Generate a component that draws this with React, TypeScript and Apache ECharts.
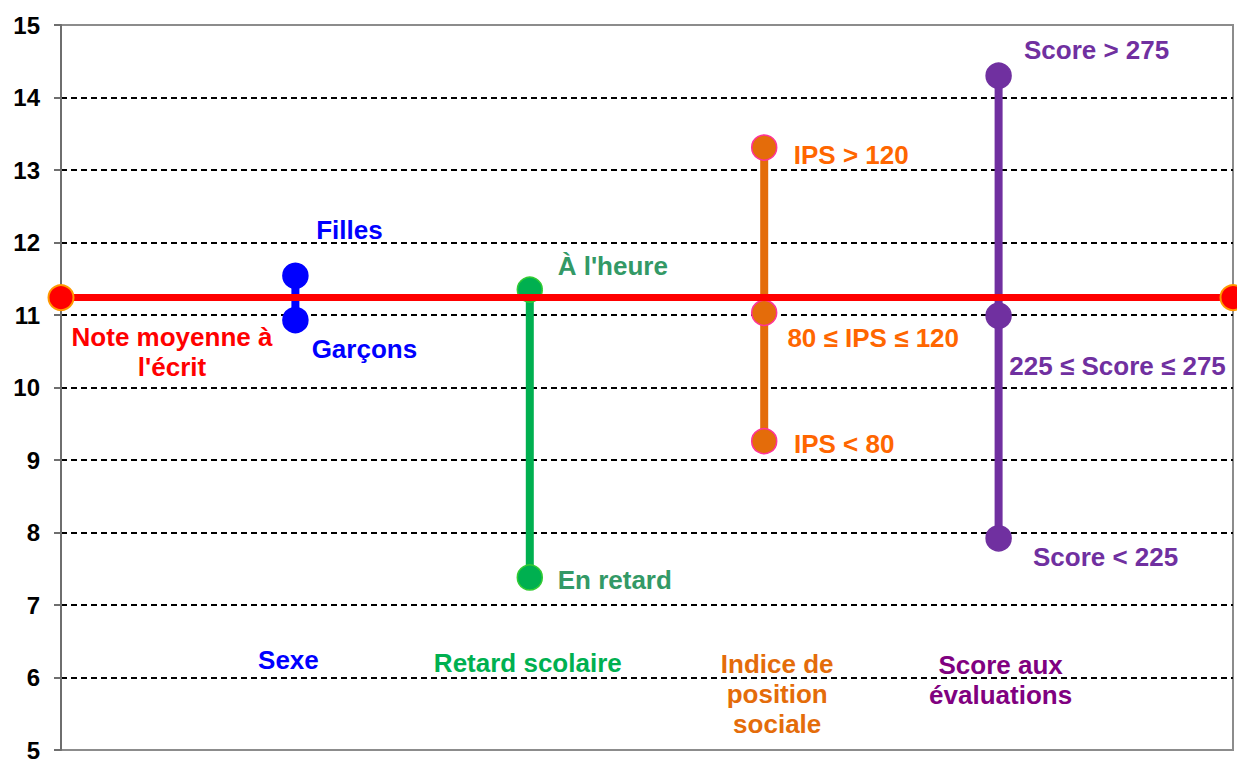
import React, { useEffect, useRef } from "react";
import * as echarts from "echarts";

// ---- data ----
const groupNames = ["Sexe", "Retard scolaire", "Indice de\nposition\nsociale", "Score aux\névaluations"];
const groupX = [0.2, 0.4, 0.6, 0.8];

const sexeLabels = ["Filles", "Garçons"];
const sexeValues = [11.54, 10.93];

const retardLabels = ["À l'heure", "En retard"];
const retardValues = [11.35, 7.38];

const ipsLabels = ["IPS > 120", "80 ≤ IPS ≤ 120", "IPS < 80"];
const ipsValues = [13.31, 11.03, 9.26];

const scoreLabels = ["Score > 275", "225 ≤ Score ≤ 275", "Score < 225"];
const scoreValues = [14.3, 10.99, 7.92];

const meanLabel = "Note moyenne à\nl'écrit";
const meanValue = 11.24;
const meanX = [0, 1];

const yMin = 5;
const yMax = 15;
const yInterval = 1;

// ---- styles ----
const FONT = "'Liberation Sans', Arial, sans-serif";
const groupStyles = [
  { line: "#0000ff", fill: "#0000ff", border: "#0000ff", label: "#0000ff", title: "#0000ff", offsets: [[54, -46], [69, 29]] },
  { line: "#00b050", fill: "#00b050", border: "#33cc33", label: "#339966", title: "#00b050", offsets: [[83, -24], [85, 3]] },
  { line: "#e46c0a", fill: "#e46c0a", border: "#ff3399", label: "#ff6600", title: "#e46c0a", offsets: [[87, 7], [109, 25], [80, 3]] },
  { line: "#7030a0", fill: "#7030a0", border: "#7030a0", label: "#7030a0", title: "#800080", offsets: [[98, -26], [119, 50], [107, 19]] },
];
const titleOffsets = [[-7, -18], [-2, -15], [13, 16], [2, 2]];

export default function App() {
  const ref = useRef<HTMLDivElement>(null);
  useEffect(() => {
    if (!ref.current) return;
    const chart = echarts.init(ref.current, undefined, { renderer: "svg" });
    const groupLabels = [sexeLabels, retardLabels, ipsLabels, scoreLabels];
    const groupValues = [sexeValues, retardValues, ipsValues, scoreValues];

    const groupSeries = groupValues.map((vals, gi) => {
      const st = groupStyles[gi];
      return {
        type: "line",
        z: 2,
        silent: true,
        symbol: "circle",
        symbolSize: 25,
        showAllSymbol: true,
        lineStyle: { color: st.line, width: 8 },
        itemStyle: { color: st.fill, borderColor: st.border, borderWidth: 1.5 },
        data: vals.map((v, i) => ({
          value: [groupX[gi], v],
          label: {
            show: true,
            position: "inside",
            offset: st.offsets[i],
            formatter: groupLabels[gi][i],
            color: st.label,
            fontFamily: FONT,
            fontWeight: "bold",
            fontSize: 26,
          },
        })),
      };
    });

    const meanSeries = {
      type: "line",
      z: 4,
      silent: true,
      symbol: "circle",
      symbolSize: 25,
      lineStyle: { color: "#ff0000", width: 7 },
      itemStyle: { color: "#ff0000", borderColor: "#ff9900", borderWidth: 2 },
      data: meanX.map((x, i) => ({
        value: [x, meanValue],
        label:
          i === 0
            ? {
                show: true,
                position: "inside",
                offset: [111, 54],
                formatter: meanLabel,
                color: "#ff0000",
                fontFamily: FONT,
                fontWeight: "bold",
                fontSize: 26,
                lineHeight: 30,
                align: "center",
              }
            : { show: false },
      })),
    };

    const titleSeries = {
      type: "scatter",
      z: 5,
      silent: true,
      symbolSize: 0.1,
      itemStyle: { color: "#ffffff", opacity: 1 },
      data: groupNames.map((n, gi) => ({
        value: [groupX[gi], 6],
        label: {
          show: true,
          position: "inside",
          offset: titleOffsets[gi],
          formatter: n,
          color: groupStyles[gi].title,
          opacity: 1,
          fontFamily: FONT,
          fontWeight: "bold",
          fontSize: 26,
          lineHeight: 30,
          align: "center",
        },
      })),
    };

    chart.setOption({
      animation: false,
      grid: {
        left: 61,
        right: 4,
        top: 25,
        bottom: 7,
        show: true,
        borderColor: "#8c8c8c",
        borderWidth: 2,
        backgroundColor: "#ffffff",
      },
      xAxis: { type: "value", min: 0, max: 1, show: false },
      yAxis: {
        type: "value",
        min: yMin,
        max: yMax,
        interval: yInterval,
        axisLine: { show: true, lineStyle: { color: "#6e6e6e", width: 2 } },
        axisTick: { show: true, length: 7, inside: false, lineStyle: { color: "#6e6e6e", width: 2 } },
        axisLabel: { color: "#000", fontFamily: FONT, fontWeight: "bold", fontSize: 24, margin: 21 },
        splitLine: {
          show: true,
          showMinLine: false,
          showMaxLine: false,
          lineStyle: { color: "#000", type: [6, 4], width: 2 },
        },
      },
      series: [...groupSeries, meanSeries, titleSeries],
    });
    return () => chart.dispose();
  }, []);
  return (
    <div
      ref={ref}
      style={{ position: "absolute", left: 0, top: 0, width: "100vw", height: "100vh", background: "#fff" }}
    />
  );
}
